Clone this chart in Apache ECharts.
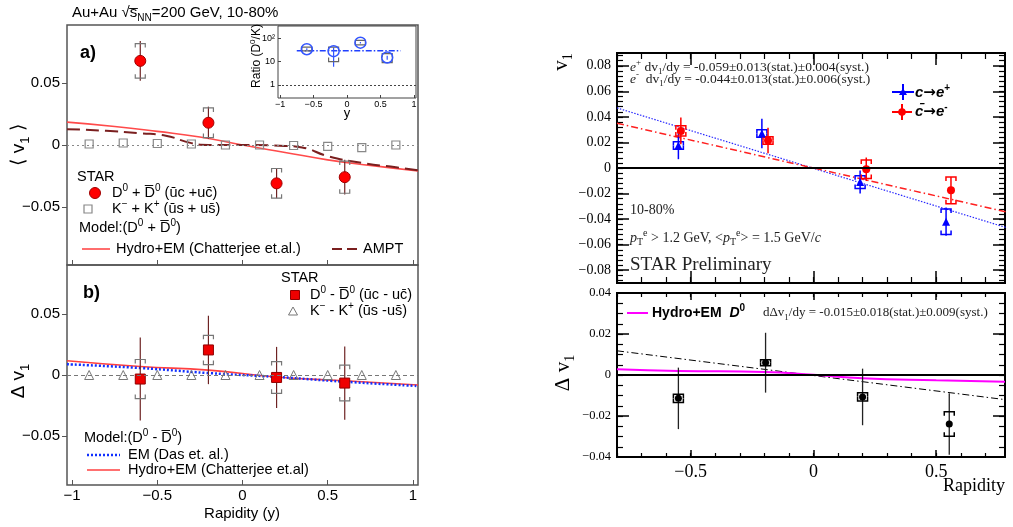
<!DOCTYPE html>
<html>
<head>
<meta charset="utf-8">
<script src="https://cdn.jsdelivr.net/npm/echarts@6/dist/echarts.min.js"></script>
<style>
  html, body { margin: 0; padding: 0; background: #fff; }
  #chart { width: 1013px; height: 527px; }
</style>
</head>
<body>
<div id="chart"></div>
<script>
// ---------- (a) directed flow of D0 + D0bar and kaons ----------
const rapD = [-0.6, -0.2, 0.2, 0.6];
const v1DSum = [0.068, 0.018, -0.031, -0.026];
const v1DSumStat = [0.016, 0.013, 0.012, 0.014];
const v1DSumSys = [0.014, 0.012, 0.012, 0.013];
const rapK = [-0.9, -0.7, -0.5, -0.3, -0.1, 0.1, 0.3, 0.5, 0.7, 0.9];
const v1KSum = [0.0008, 0.0016, 0.0012, 0.0008, 0.0, 0.0, -0.0004, -0.0011, -0.0022, 0.0];
const hydroSumX = [-1.03, -0.75, -0.5, -0.25, 0, 0.25, 0.5, 0.75, 1.03];
const hydroSumY = [0.0185, 0.015, 0.011, 0.0065, 0.0, -0.006, -0.012, -0.0165, -0.021];
const amptX = [-1.03, -0.8, -0.6, -0.45, -0.3, -0.2, 0.0, 0.25, 0.35, 0.5, 0.7, 0.9, 1.03];
const amptY = [0.0128, 0.0115, 0.0095, 0.0075, 0.0015, 0.0, 0.0, -0.0008, -0.002, -0.009, -0.0145, -0.018, -0.0205];

// ---------- (b) D0 - D0bar difference and kaons ----------
const v1DDiff = [-0.0033, 0.0205, -0.002, -0.0066];
const v1DDiffStat = [0.034, 0.028, 0.025, 0.030];
const v1DDiffSys = [0.016, 0.012, 0.013, 0.0146];
const v1KDiff = [0, 0, 0, 0, 0, 0, 0, 0, 0, 0];
const hydroDiffX = [-1.03, -0.6, -0.2, 0.2, 0.6, 1.03];
const hydroDiffY = [0.0117, 0.007, 0.004, -0.0016, -0.0047, -0.0082];
const emDiffX = [-1.03, -0.6, -0.2, 0.2, 0.6, 1.03];
const emDiffY = [0.0088, 0.0057, 0.0016, -0.0016, -0.0055, -0.009];

// ---------- inset: ratio D0/K ----------
const ratioX = [-0.6, -0.2, 0.2, 0.6];
const ratioY = [34, 28, 65, 15];
const ratioStatLo = [31, 6, 60, 12];
const ratioStatHi = [37, 40, 70, 18];
const ratioSysLo = [29, 10, 52, 9];
const ratioSysHi = [42, 42, 82, 22];
const ratioFitX = [-0.75, 0.8];
const ratioFitY = [29, 29];

// ---------- heavy-flavour electrons v1 ----------
const ePlusX = [-0.55, -0.21, 0.19, 0.54];
const ePlusY = [0.0176, 0.027, -0.011, -0.042];
const ePlusStat = [0.0107, 0.0115, 0.009, 0.011];
const ePlusSys = [0.003, 0.003, 0.005, 0.010];
const eMinusX = [-0.54, -0.185, 0.215, 0.56];
const eMinusY = [0.029, 0.0215, -0.001, -0.0175];
const eMinusStat = [0.0105, 0.010, 0.0092, 0.0105];
const eMinusSys = [0.004, 0.003, 0.0072, 0.0105];
const fitPlusX = [-0.8, 0.8];
const fitPlusY = [0.047, -0.0475];
const fitMinusX = [-0.8, 0.8];
const fitMinusY = [0.035, -0.035];

// ---------- electron difference ----------
const dX = [-0.55, -0.195, 0.2, 0.553];
const dY = [-0.0114, 0.006, -0.0107, -0.0239];
const dStat = [0.015, 0.0146, 0.0138, 0.015];
const dSys = [0.002, 0.0015, 0.002, 0.006];
const dFitX = [-0.8, 0.78];
const dFitY = [0.0118, -0.012];
const hydroD0X = [-0.8, -0.55, -0.2, 0, 0.2, 0.5, 0.78];
const hydroD0Y = [0.0028, 0.002, 0.0015, 0.0001, -0.0016, -0.0026, -0.0033];

// ---------- tick values ----------
const leftXTicks = [-1, -0.5, 0, 0.5, 1];
const leftYTicks = [-0.05, 0, 0.05];
const insetYTicks = [1, 10, 100];
const rightXMajor = [-0.5, 0, 0.5];
const rightXMinor = steps(-0.8, 0.7, 0.1);
const upperYMajor = steps(-0.08, 0.08, 0.02);
const upperYMinor = steps(-0.088, 0.088, 0.004);
const lowerYMajor = steps(-0.04, 0.04, 0.02);
const lowerYMinor = steps(-0.035, 0.035, 0.005);

function steps(a, b, s) {
  const out = [];
  const n = Math.round((b - a) / s);
  for (let i = 0; i <= n; i++) out.push(+(a + i * s).toFixed(4));
  return out;
}

const SANS = '"Liberation Sans", Arial, Helvetica, sans-serif';
const SERIF = '"Liberation Serif", "Times New Roman", serif';

function fmtNum(v) {
  const r = +(+v).toFixed(4);
  if (Math.abs(r) < 1e-9) return '0';
  return (r < 0 ? '\u2212' : '') + String(Math.abs(r));
}

function axis(gridIndex, min, max, position, o) {
  o = o || {};
  return {
    type: o.log ? 'log' : 'value',
    logBase: 10,
    gridIndex, min, max, position,
    axisLine: { show: false, onZero: false },
    splitLine: { show: false },
    axisTick: o.ticks ? {
      show: true, inside: !!o.inside, length: o.len || 5,
      customValues: o.ticks,
      lineStyle: { color: o.tickColor || '#000', width: o.tickWidth || 1 }
    } : { show: false },
    axisLabel: o.labels ? {
      show: true, customValues: o.labels,
      formatter: o.fmt || fmtNum, margin: o.margin || 6,
      fontSize: o.fontSize || 14, fontFamily: o.family || SANS, color: '#000'
    } : { show: false }
  };
}

const LGRAY = '#555';
const xAxes = [
  axis(0, -1.03, 1.03, 'bottom', { ticks: leftXTicks, inside: true, len: 5, tickColor: LGRAY }),
  axis(1, -1.03, 1.03, 'bottom', { ticks: leftXTicks, inside: true, len: 5, tickColor: LGRAY, labels: leftXTicks, margin: 3, fontSize: 15 }),
  axis(2, -1.03, 1.03, 'bottom', { ticks: leftXTicks, inside: true, len: 3, tickColor: '#444', labels: leftXTicks, margin: 2, fontSize: 9 }),
  // upper right
  axis(3, -0.8, 0.78, 'bottom', { ticks: rightXMajor, inside: true, len: 12, tickWidth: 1.5 }),
  axis(3, -0.8, 0.78, 'bottom', { ticks: rightXMinor, inside: true, len: 6, tickWidth: 1.2 }),
  axis(3, -0.8, 0.78, 'top', { ticks: rightXMajor, inside: true, len: 12, tickWidth: 1.5 }),
  axis(3, -0.8, 0.78, 'top', { ticks: rightXMinor, inside: true, len: 6, tickWidth: 1.2 }),
  // lower right
  axis(4, -0.8, 0.78, 'bottom', { ticks: rightXMajor, inside: true, len: 7, tickWidth: 1.5, labels: rightXMajor, margin: 6, fontSize: 18, family: SERIF }),
  axis(4, -0.8, 0.78, 'bottom', { ticks: rightXMinor, inside: true, len: 4, tickWidth: 1.2 }),
  axis(4, -0.8, 0.78, 'top', { ticks: rightXMajor, inside: true, len: 7, tickWidth: 1.5 }),
  axis(4, -0.8, 0.78, 'top', { ticks: rightXMinor, inside: true, len: 4, tickWidth: 1.2 })
];
const yAxes = [
  axis(0, -0.097, 0.097, 'left', { ticks: leftYTicks, inside: false, len: 5, tickColor: LGRAY, labels: leftYTicks, margin: 7, fontSize: 15 }),
  axis(1, -0.09, 0.09, 'left', { ticks: leftYTicks, inside: false, len: 5, tickColor: LGRAY, labels: leftYTicks, margin: 7, fontSize: 15 }),
  axis(2, 0.27, 340, 'left', { log: true, ticks: insetYTicks, inside: true, len: 3, tickColor: '#444', labels: insetYTicks, margin: 3, fontSize: 9,
    fmt: v => (Math.abs(v - 100) < 1e-6 ? '10\u00B2' : String(Math.round(v))) }),
  // upper right
  axis(3, -0.09, 0.09, 'left', { ticks: upperYMajor, inside: true, len: 12, tickWidth: 1.5, labels: upperYMajor, margin: 6, fontSize: 14, family: SERIF }),
  axis(3, -0.09, 0.09, 'left', { ticks: upperYMinor, inside: true, len: 6, tickWidth: 1.2 }),
  axis(3, -0.09, 0.09, 'right', { ticks: upperYMajor, inside: true, len: 12, tickWidth: 1.5 }),
  axis(3, -0.09, 0.09, 'right', { ticks: upperYMinor, inside: true, len: 6, tickWidth: 1.2 }),
  // lower right
  axis(4, -0.04, 0.04, 'left', { ticks: lowerYMajor, inside: true, len: 12, tickWidth: 1.5, labels: lowerYMajor, margin: 6, fontSize: 12.5, family: SERIF }),
  axis(4, -0.04, 0.04, 'left', { ticks: lowerYMinor, inside: true, len: 6, tickWidth: 1.2 }),
  axis(4, -0.04, 0.04, 'right', { ticks: lowerYMajor, inside: true, len: 12, tickWidth: 1.5 }),
  axis(4, -0.04, 0.04, 'right', { ticks: lowerYMinor, inside: true, len: 6, tickWidth: 1.2 })
];

// ---------- error bar drawing ----------
function bracketPair(cx, yTop, yBot, w, t, style) {
  const h = Math.max(0, Math.min(t, (yBot - yTop) / 2));
  return [
    { type: 'polyline', shape: { points: [[cx - w, yTop + h], [cx - w, yTop], [cx + w, yTop], [cx + w, yTop + h]] }, style },
    { type: 'polyline', shape: { points: [[cx - w, yBot - h], [cx - w, yBot], [cx + w, yBot], [cx + w, yBot - h]] }, style }
  ];
}

// symmetric: value = [x, y, stat, sys]
function symErrors(cfg) {
  return function (params, api) {
    const x = api.value(0), y = api.value(1), se = api.value(2), sy = api.value(3);
    const children = [];
    const a = api.coord([x, y + se]), b = api.coord([x, y - se]);
    children.push({ type: 'line', shape: { x1: a[0], y1: a[1], x2: b[0], y2: b[1] },
      style: { stroke: cfg.statColor, lineWidth: cfg.statWidth } });
    const t = api.coord([x, y + sy]), u = api.coord([x, y - sy]);
    const st = { stroke: cfg.sysColor, lineWidth: cfg.sysWidth, fill: 'none' };
    bracketPair(t[0], t[1], u[1], cfg.w, cfg.t, st).forEach(c => children.push(c));
    return { type: 'group', children };
  };
}

// asymmetric: value = [x, y, statLo, statHi, sysLo, sysHi]
function asymErrors(cfg) {
  return function (params, api) {
    const x = api.value(0);
    const a = api.coord([x, api.value(3)]), b = api.coord([x, api.value(2)]);
    const t = api.coord([x, api.value(5)]), u = api.coord([x, api.value(4)]);
    const children = [{ type: 'line', shape: { x1: a[0], y1: a[1], x2: b[0], y2: b[1] },
      style: { stroke: cfg.statColor, lineWidth: cfg.statWidth } }];
    const st = { stroke: cfg.sysColor, lineWidth: cfg.sysWidth, fill: 'none' };
    bracketPair(t[0], t[1], u[1], cfg.w, cfg.t, st).forEach(c => children.push(c));
    return { type: 'group', children };
  };
}

function pts(xs, ys) { return xs.map((x, i) => [x, ys[i]]); }
function errData(xs, ys, st, sy) { return xs.map((x, i) => [x, ys[i], st[i], sy[i]]); }

function errSeries(ax, data, cfg) {
  return { type: 'custom', xAxisIndex: ax[0], yAxisIndex: ax[1], data, renderItem: symErrors(cfg),
    encode: { x: 0, y: 1 }, z: 3, silent: true, clip: false };
}
function markSeries(ax, data, symbol, size, itemStyle, z) {
  return { type: 'scatter', xAxisIndex: ax[0], yAxisIndex: ax[1], data, symbol, symbolSize: size,
    itemStyle: Object.assign({ opacity: 1 }, itemStyle), z: z || 4, silent: true };
}
function lineSeries(ax, data, lineStyle, smooth) {
  return { type: 'line', xAxisIndex: ax[0], yAxisIndex: ax[1], data, showSymbol: false, symbol: 'none',
    smooth: !!smooth, lineStyle, z: 2, silent: true };
}
function zeroLine(ax, yv, lineStyle) {
  return { type: 'line', xAxisIndex: ax[0], yAxisIndex: ax[1], data: [], silent: true, z: 1,
    markLine: { silent: true, symbol: 'none', label: { show: false }, lineStyle, data: [{ yAxis: yv }] } };
}

const A = [0, 0], B = [1, 1], IN = [2, 2], C = [3, 3], D = [7, 7];
const leftErr = { statColor: '#6e2323', statWidth: 1.2, sysColor: '#777', sysWidth: 1.2, w: 5, t: 4 };

const series = [
  // panel a
  zeroLine(A, 0, { color: '#888', width: 1, type: [2, 3] }),
  lineSeries(A, pts(hydroSumX, hydroSumY), { color: '#ff4a4a', width: 1.6 }, true),
  lineSeries(A, pts(amptX, amptY), { color: '#7a1f1f', width: 2, type: [13, 6] }, true),
  errSeries(A, errData(rapD, v1DSum, v1DSumStat, v1DSumSys), leftErr),
  markSeries(A, pts(rapK, v1KSum), 'rect', 8, { color: 'rgba(0,0,0,0)', borderColor: '#888', borderWidth: 1.2 }),
  markSeries(A, pts(rapD, v1DSum), 'circle', 11, { color: '#ff0000', borderColor: '#a00000', borderWidth: 1 }),
  // panel b
  zeroLine(B, 0, { color: '#777', width: 1, type: [4, 3] }),
  lineSeries(B, pts(hydroDiffX, hydroDiffY), { color: '#ff4040', width: 1.6 }, true),
  lineSeries(B, pts(emDiffX, emDiffY), { color: '#1030ff', width: 2.5, type: [2, 2] }, true),
  errSeries(B, errData(rapD, v1DDiff, v1DDiffStat, v1DDiffSys), leftErr),
  markSeries(B, pts(rapK, v1KDiff), 'triangle', 9, { color: 'rgba(0,0,0,0)', borderColor: '#777', borderWidth: 1 }),
  markSeries(B, pts(rapD, v1DDiff), 'rect', 10, { color: '#ee0000', borderColor: '#900000', borderWidth: 1 }),
  // inset
  zeroLine(IN, 1, { color: '#444', width: 1, type: [2, 2] }),
  lineSeries(IN, pts(ratioFitX, ratioFitY), { color: '#2040ff', width: 1.5, type: [6, 2, 1.5, 2] }),
  { type: 'custom', xAxisIndex: 2, yAxisIndex: 2, silent: true, z: 3, clip: false,
    data: ratioX.map((x, i) => [x, ratioY[i], ratioStatLo[i], ratioStatHi[i], ratioSysLo[i], ratioSysHi[i]]),
    encode: { x: 0, y: 1 },
    renderItem: asymErrors({ statColor: '#3355ff', statWidth: 1.2, sysColor: '#666', sysWidth: 1.2, w: 5, t: 4 }) },
  markSeries(IN, pts(ratioX, ratioY), 'circle', 11, { color: 'rgba(0,0,0,0)', borderColor: '#3355ff', borderWidth: 1.5 }),
  // upper right
  zeroLine(C, 0, { color: '#000', width: 2, type: 'solid' }),
  lineSeries(C, pts(fitPlusX, fitPlusY), { color: '#2a2aff', width: 1.2, type: [1.5, 1.5] }),
  lineSeries(C, pts(fitMinusX, fitMinusY), { color: '#ff2020', width: 1.5, type: [7, 3, 1.5, 3] }),
  errSeries(C, errData(ePlusX, ePlusY, ePlusStat, ePlusSys), { statColor: '#0000ff', statWidth: 1.5, sysColor: '#0000ff', sysWidth: 1.5, w: 5, t: 4 }),
  errSeries(C, errData(eMinusX, eMinusY, eMinusStat, eMinusSys), { statColor: '#ff0000', statWidth: 1.5, sysColor: '#ff0000', sysWidth: 1.5, w: 5, t: 4 }),
  markSeries(C, pts(ePlusX, ePlusY), 'triangle', 8, { color: '#0000ff' }),
  markSeries(C, pts(eMinusX, eMinusY), 'circle', 8, { color: '#ff0000' }),
  // lower right
  zeroLine(D, 0, { color: '#000', width: 2, type: 'solid' }),
  lineSeries(D, pts(dFitX, dFitY), { color: '#000', width: 1, type: [7, 3, 1.5, 3] }),
  lineSeries(D, pts(hydroD0X, hydroD0Y), { color: '#ff00ff', width: 2 }, true),
  errSeries(D, errData(dX, dY, dStat, dSys), { statColor: '#222', statWidth: 1.3, sysColor: '#000', sysWidth: 1.5, w: 5, t: 4 }),
  markSeries(D, pts(dX, dY), 'circle', 7, { color: '#000' })
];

// ---------- free text and legend keys ----------
function richSet(family, size, extra) {
  const base = Object.assign({ fontFamily: family }, extra || {});
  const small = Math.round(size * 0.68);
  return {
    sup: Object.assign({}, base, { fontSize: small, verticalAlign: 'top', textVerticalAlign: 'top' }),
    sub: Object.assign({}, base, { fontSize: small, verticalAlign: 'bottom', textVerticalAlign: 'bottom' }),
    it: Object.assign({}, base, { fontSize: size, fontStyle: 'italic' }),
    bi: Object.assign({}, base, { fontSize: size, fontStyle: 'italic', fontWeight: 'bold' }),
    arr: Object.assign({}, base, { fontSize: size, fontFamily: '"DejaVu Sans", sans-serif', fontWeight: 'bold' })
  };
}
function txt(x, y, text, o) {
  o = o || {};
  const family = o.family || SANS, size = o.size || 15;
  const align = o.align || 'left';
  return {
    type: 'text', x, y, rotation: o.rot || 0, z: 100, silent: true,
    style: {
      text, fontFamily: family, fontSize: size, fontWeight: o.weight || 'normal',
      fontStyle: o.fstyle || 'normal', fill: o.color || '#000',
      align, textAlign: align, verticalAlign: 'middle', textVerticalAlign: 'middle',
      lineHeight: Math.round(size * 1.35),
      rich: richSet(family, size, o.weight ? { fontWeight: o.weight } : null)
    }
  };
}
function seg(x1, y1, x2, y2, stroke, width, dash) {
  return { type: 'line', z: 100, silent: true, shape: { x1, y1, x2, y2 },
    style: { stroke, lineWidth: width, lineDash: dash || null } };
}

const Dbar = 'D\u0305';
const elements = [
  txt(72, 13, 'Au+Au \u221As\u0305{sub|NN}=200 GeV, 10-80%', { size: 15 }),
  // panel a
  txt(80, 53, 'a)', { size: 18, weight: 'bold' }),
  txt(19, 145, '\u27E8 v{sub|1} \u27E9', { size: 19, rot: Math.PI / 2, align: 'center' }),
  txt(77, 177, 'STAR', { size: 14.5 }),
  { type: 'circle', z: 100, silent: true, shape: { cx: 95, cy: 193, r: 5.5 }, style: { fill: '#ff0000', stroke: '#a00000', lineWidth: 1 } },
  txt(112, 193, 'D{sup|0} + ' + Dbar + '{sup|0} (\u016Bc +uc\u0304)', { size: 14.5 }),
  { type: 'rect', z: 100, silent: true, shape: { x: 84, y: 205, width: 8, height: 8 }, style: { fill: 'none', stroke: '#888', lineWidth: 1.2 } },
  txt(112, 209, 'K{sup|\u2212} + K{sup|+} (\u016Bs + us\u0304)', { size: 14.5 }),
  txt(79, 228, 'Model:(D{sup|0} + ' + Dbar + '{sup|0})', { size: 14.5 }),
  seg(82, 249, 110, 249, '#ff4a4a', 1.6),
  txt(116, 249, 'Hydro+EM (Chatterjee et.al.)', { size: 14.5 }),
  seg(332, 249, 359, 249, '#7a1f1f', 2, [10, 5]),
  txt(363, 249, 'AMPT', { size: 14.5 }),
  // inset
  txt(257, 56, 'Ratio (D{sup|0}/K)', { size: 12, rot: Math.PI / 2, align: 'center' }),
  txt(347, 113, 'y', { size: 13, align: 'center' }),
  // panel b
  txt(83, 293, 'b)', { size: 18, weight: 'bold' }),
  txt(19, 381, '\u0394 v{sub|1}', { size: 19, rot: Math.PI / 2, align: 'center' }),
  txt(281, 278, 'STAR', { size: 14.5 }),
  { type: 'rect', z: 100, silent: true, shape: { x: 290.5, y: 290.5, width: 9, height: 9 }, style: { fill: '#ee0000', stroke: '#900000', lineWidth: 1 } },
  txt(310, 295, 'D{sup|0} - ' + Dbar + '{sup|0} (\u016Bc - uc\u0304)', { size: 14.5 }),
  { type: 'polygon', z: 100, silent: true, shape: { points: [[293, 307], [297.5, 315], [288.5, 315]] }, style: { fill: 'none', stroke: '#777', lineWidth: 1 } },
  txt(310, 311, 'K{sup|\u2212} - K{sup|+} (\u016Bs -us\u0304)', { size: 14.5 }),
  txt(84, 438, 'Model:(D{sup|0} - ' + Dbar + '{sup|0})', { size: 14.5 }),
  seg(87, 455, 120, 455, '#1030ff', 2.5, [2, 2]),
  txt(128, 455, 'EM (Das et. al.)', { size: 14.5 }),
  seg(87, 470, 120, 470, '#ff4040', 1.6),
  txt(128, 470, 'Hydro+EM (Chatterjee et.al)', { size: 14.5 }),
  txt(242, 514, 'Rapidity (y)', { size: 15, align: 'center' }),
  // upper right
  txt(561, 62, 'v{sub|1}', { size: 21, family: SERIF, rot: Math.PI / 2, align: 'center' }),
  txt(630, 67, '{it|e}{sup|+} dv{sub|1}/dy = -0.059\u00B10.013(stat.)\u00B10.004(syst.)', { size: 13.5, family: SERIF, color: '#222' }),
  txt(630, 79, '{it|e}{sup|-}  dv{sub|1}/dy = -0.044\u00B10.013(stat.)\u00B10.006(syst.)', { size: 13.5, family: SERIF, color: '#222' }),
  seg(892, 92, 914, 92, '#0000ff', 2),
  seg(903, 84, 903, 100, '#0000ff', 2),
  { type: 'polygon', z: 101, silent: true, shape: { points: [[903, 88], [907, 95], [899, 95]] }, style: { fill: '#0000ff' } },
  txt(915, 93, '{bi|c}{arr|\u2192}{bi|e}{sup|+}', { size: 15, weight: 'bold', fstyle: 'italic' }),
  seg(892, 112, 912, 112, '#ff0000', 2),
  seg(902, 104, 902, 120, '#ff0000', 2),
  { type: 'circle', z: 101, silent: true, shape: { cx: 902, cy: 112, r: 3.8 }, style: { fill: '#ff0000' } },
  txt(915, 112, '{bi|c\u0304}{arr|\u2192}{bi|e}{sup|-}', { size: 15, weight: 'bold', fstyle: 'italic' }),
  txt(630, 210, '10-80%', { size: 14, family: SERIF, color: '#222' }),
  txt(630, 238, '{it|p}{sub|T}{sup|e} > 1.2 GeV, <{it|p}{sub|T}{sup|e}> = 1.5 GeV/{it|c}', { size: 14, family: SERIF, color: '#222' }),
  txt(630, 265, 'STAR Preliminary', { size: 19, family: SERIF, color: '#222' }),
  // lower right
  txt(563, 373, '\u0394 v{sub|1}', { size: 21, family: SERIF, rot: Math.PI / 2, align: 'center' }),
  seg(627, 313, 648, 313, '#ff00ff', 2),
  txt(652, 313, 'Hydro+EM  {bi|D}{sup|0}', { size: 14, weight: 'bold' }),
  txt(763, 313, 'd\u0394v{sub|1}/dy = -0.015\u00B10.018(stat.)\u00B10.009(syst.)', { size: 13, family: SERIF, color: '#222' }),
  txt(1005, 486, 'Rapidity', { size: 18, family: SERIF, align: 'right' })
];

const option = {
  animation: false,
  backgroundColor: '#fff',
  grid: [
    { left: 67, top: 25, width: 351, height: 240, show: true, borderColor: LGRAY, borderWidth: 1.5, containLabel: false },
    { left: 67, top: 265, width: 351, height: 220, show: true, borderColor: LGRAY, borderWidth: 1.5, containLabel: false },
    { left: 278, top: 26, width: 138, height: 72, show: true, borderColor: '#444', borderWidth: 1, backgroundColor: '#fff', containLabel: false },
    { left: 617, top: 53, width: 388, height: 230, show: true, borderColor: '#000', borderWidth: 2, containLabel: false },
    { left: 617, top: 293, width: 388, height: 164, show: true, borderColor: '#000', borderWidth: 2, containLabel: false }
  ],
  xAxis: xAxes,
  yAxis: yAxes,
  series,
  graphic: { elements }
};

const chart = echarts.init(document.getElementById('chart'), null, { renderer: 'canvas' });
chart.setOption(option);
</script>
</body>
</html>
